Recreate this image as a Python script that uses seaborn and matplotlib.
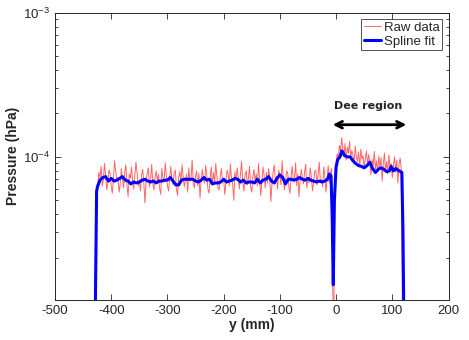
import numpy as np
import pandas as pd
import matplotlib
matplotlib.use("Agg")
import matplotlib.pyplot as plt
import matplotlib.ticker as mticker
import seaborn as sns

# raw gauge readings, sampled every 2 mm starting at y = -426 mm (units of 1e-5 hPa)
raw_start = -426
raw_step = 2
raw_vals = [
    6.0, 6.4, 7.8, 7.1, 8.6, 6.3, 6.9, 9.0, 7.4, 5.9,
    6.6, 8.1, 7.7, 6.2, 5.6, 7.3, 9.4, 8.0, 6.8, 7.2,
    5.7, 6.5, 8.3, 7.0, 6.1, 7.9, 8.8, 6.4, 5.3, 7.6,
    7.1, 8.5, 6.7, 6.0, 7.4, 9.2, 7.8, 6.3, 6.9, 5.8,
    7.5, 8.2, 6.6, 4.8, 6.9, 7.7, 8.4, 6.2, 7.0, 8.9,
    6.5, 5.9, 7.3, 8.0, 6.8, 7.6, 6.1, 5.5, 8.3, 7.2,
    6.7, 9.1, 7.4, 6.3, 5.8, 7.0, 8.6, 6.9, 6.4, 7.8,
    8.1, 6.0, 5.4, 7.2, 7.9, 6.6, 8.8, 7.3, 6.2, 6.9,
    7.6, 5.7, 8.4, 6.8, 7.1, 9.5, 6.5, 6.1, 7.4, 8.0,
    6.3, 7.7, 5.2, 6.9, 8.2, 7.0, 6.6, 8.7, 7.5, 6.0,
    5.6, 7.2, 8.5, 6.4, 7.8, 6.7, 9.0, 7.3, 6.1, 5.9,
    7.4, 8.3, 6.8, 7.0, 5.5, 6.6, 8.1, 7.6, 6.3, 8.9,
    7.1, 6.5, 5.0, 7.9, 6.9, 8.4, 7.2, 6.0, 7.7, 9.3,
    6.7, 5.8, 7.5, 8.0, 6.4, 7.1, 8.6, 6.2, 5.7, 7.3,
    8.2, 6.9, 7.6, 6.3, 9.0, 7.0, 5.4, 6.8, 8.5, 7.4,
    6.1, 7.8, 6.6, 8.3, 7.2, 4.9, 6.5, 7.9, 8.8, 6.9,
    7.3, 6.0, 8.1, 7.5, 6.4, 9.4, 7.0, 5.9, 6.7, 8.0,
    7.7, 6.2, 5.6, 7.4, 8.6, 6.8, 7.1, 9.1, 6.3, 7.6,
    5.3, 6.9, 8.2, 7.2, 6.5, 7.8, 8.9, 6.1, 7.0, 6.6,
    8.4, 7.3, 5.8, 6.7, 7.9, 8.1, 6.4, 7.5, 9.2, 6.8,
    7.0, 6.2, 8.5, 7.4, 5.7, 7.1, 8.7, 6.6, 7.9, 8.3,
    1.2, 0.7,
    7.8, 9.2, 10.5, 9.8, 12.0, 10.9, 13.6, 11.4, 10.1, 12.4,
    9.5, 11.7, 10.6, 12.8, 9.9, 11.1, 10.3, 8.9, 11.9, 10.0,
    9.3, 10.8, 8.6, 11.3, 9.7, 10.2, 8.3, 9.8, 11.0, 8.8,
    10.4, 9.1, 7.5, 9.6, 8.7, 10.9, 8.2, 9.4, 7.9, 10.1,
    8.5, 9.9, 6.8, 8.9, 10.6, 8.0, 9.3, 7.6, 10.3, 8.4,
    9.0, 7.2, 8.7, 10.0, 7.8, 9.5, 6.6, 8.9, 9.8, 8.1,
    0.8,
]

# spline fit (units of 1e-5 hPa)
fit_pos = [
    -429, -426, -424, -420, -415, -410, -405, -400, -395, -390,
    -385, -380, -375, -370, -365, -360, -355, -350, -345, -340,
    -335, -330, -325, -320, -315, -310, -305, -300, -295, -290,
    -285, -280, -275, -270, -265, -260, -255, -250, -245, -240,
    -235, -230, -225, -220, -215, -210, -205, -200, -195, -190,
    -185, -180, -175, -170, -165, -160, -155, -150, -145, -140,
    -135, -130, -125, -120, -115, -110, -105, -100, -95, -90,
    -85, -80, -75, -70, -65, -60, -55, -50, -45, -40,
    -35, -30, -25, -20, -15, -12, -9, -7, -5, -3,
    0, 3, 7, 10, 12, 15, 20, 25, 30, 35,
    40, 45, 50, 55, 60, 65, 70, 75, 80, 85,
    90, 95, 98, 102, 106, 110, 115, 117, 119, 121,
]
fit_vals = [
    0.5, 5.8, 6.3, 6.9, 7.2, 7.3, 6.8, 7.1, 6.8, 6.9,
    7.1, 7.3, 6.9, 6.8, 6.5, 6.7, 6.6, 6.7, 6.9, 7.0,
    6.8, 6.7, 6.8, 6.6, 6.8, 6.8, 6.9, 6.9, 7.2, 6.8,
    6.4, 6.4, 6.9, 7.0, 7.0, 7.0, 7.0, 6.8, 6.7, 6.9,
    7.2, 6.9, 7.0, 6.5, 6.6, 6.6, 6.7, 7.0, 6.7, 6.8,
    6.9, 7.1, 7.0, 6.7, 6.9, 6.6, 6.7, 6.7, 6.6, 7.0,
    6.6, 6.9, 7.0, 7.3, 6.8, 6.6, 7.1, 7.5, 7.2, 6.5,
    7.0, 7.0, 6.9, 7.0, 7.2, 7.0, 6.9, 7.1, 6.9, 6.8,
    6.7, 6.8, 6.7, 6.8, 7.0, 7.6, 7.4, 4.0, 1.3, 5.0,
    8.5, 9.6, 10.0, 11.0, 10.8, 10.2, 10.0, 10.0, 9.4, 9.0,
    8.7, 8.6, 8.4, 8.7, 9.2, 8.3, 7.8, 8.2, 8.4, 8.2,
    7.9, 8.0, 8.6, 8.0, 8.3, 8.1, 7.9, 7.8, 3.0, 0.5,
]

raw = pd.DataFrame({
    "y": raw_start + raw_step * np.arange(len(raw_vals)),
    "p": np.array(raw_vals) * 1e-5,
})
fit = pd.DataFrame({"y": fit_pos, "p": np.array(fit_vals) * 1e-5})

sns.set_style("ticks")
plt.rcParams["font.family"] = ["Liberation Sans", "DejaVu Sans"]
plt.rcParams["mathtext.fontset"] = "custom"
plt.rcParams["mathtext.rm"] = "Liberation Sans"
plt.rcParams["axes.unicode_minus"] = False
plt.rcParams["axes.edgecolor"] = "#262626"
plt.rcParams["axes.linewidth"] = 0.7

fig = plt.figure(figsize=(4.69, 3.40), dpi=100)
ax = fig.add_axes([0.1173, 0.1176, 0.8390, 0.8456])

sns.lineplot(data=raw, x="y", y="p", ax=ax, color="red", alpha=0.6,
             lw=0.7, label="Raw data", sort=False)
sns.lineplot(data=fit, x="y", y="p", ax=ax, color="blue",
             lw=2.2, label="Spline fit", sort=False)

ax.set_yscale("log")
ax.set_xlim(-500, 200)
ax.set_ylim(1.02e-5, 1e-3)
ax.set_xticks(range(-500, 201, 100))
ax.set_yticks([1e-4, 1e-3])
ax.yaxis.set_major_formatter(mticker.LogFormatterMathtext())
ax.yaxis.set_minor_locator(mticker.LogLocator(base=10, subs=range(2, 10)))
ax.yaxis.set_minor_formatter(mticker.NullFormatter())
ax.tick_params(which="both", direction="in", top=True, right=True,
               labelsize=9.5, colors="#262626")
ax.tick_params(which="major", length=4, width=0.6)
ax.tick_params(which="minor", length=2.5, width=0.6)

ax.set_xlabel("y (mm)", fontsize=10, fontweight="bold", labelpad=1)
ax.set_ylabel("Pressure (hPa)", fontsize=10, fontweight="bold", labelpad=2)

ax.annotate("", xy=(125, 1.67e-4), xytext=(-6, 1.67e-4),
            arrowprops=dict(arrowstyle="<->", color="black", lw=2,
                            mutation_scale=12, shrinkA=0, shrinkB=0))
ax.text(57, 2.25e-4, "Dee region", ha="center", va="center",
        fontsize=8, fontweight="bold", family="DejaVu Sans")

leg = ax.legend(loc="upper right", fontsize=9.5, frameon=True, fancybox=False,
                edgecolor="#262626", handlelength=1.3, handletextpad=0.2,
                borderpad=0.2, labelspacing=0.1, borderaxespad=0.5)
leg.get_frame().set_linewidth(0.7)

fig.savefig("out.png", dpi=100)
